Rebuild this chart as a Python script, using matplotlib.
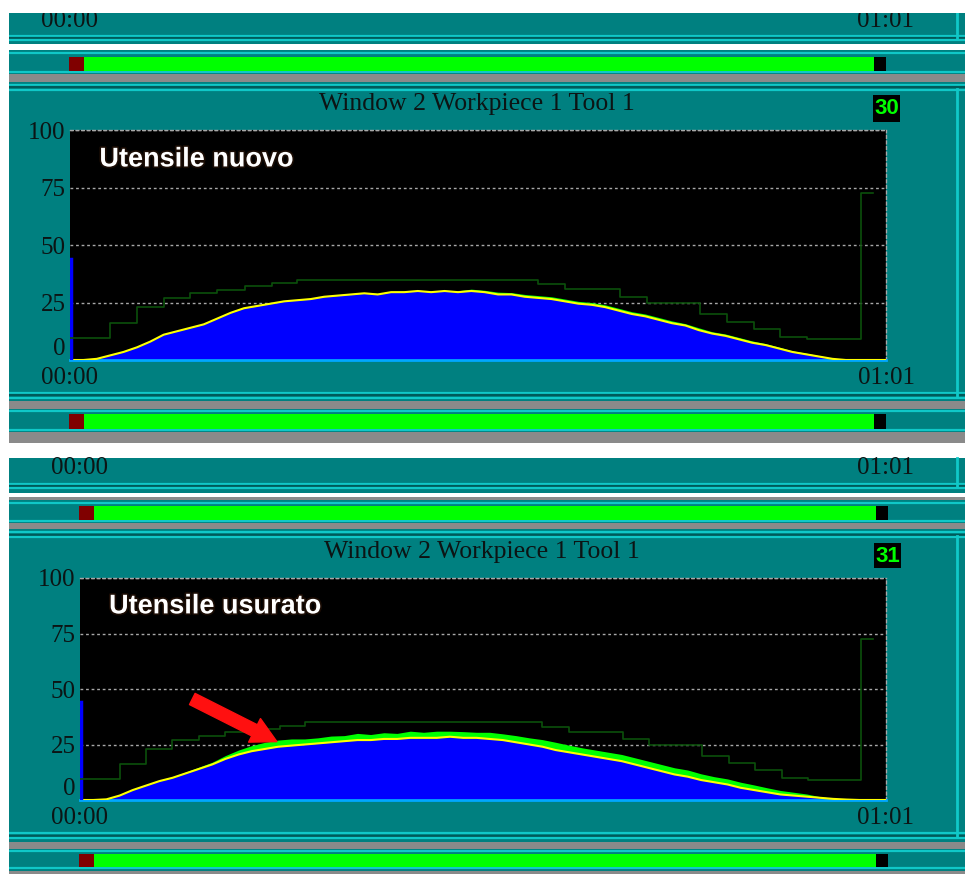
import matplotlib.pyplot as plt
import matplotlib.patheffects as pe
from matplotlib.patches import Rectangle

plt.rcParams['font.family'] = ['Liberation Serif', 'DejaVu Serif']

# tempo in secondi (00:00 - 01:01)
t = list(range(62))

# utensile nuovo: segnale (giallo) e inviluppo verde
nuovo = [0, 0, 0.5, 2, 3.5, 5.5, 8, 11, 12.5, 14, 15.5, 18, 20.5, 22.5, 23.5, 24.5,
         25.5, 26, 26.5, 27.5, 28, 28.5, 29, 28.5, 29.5, 29.5, 30, 29.5, 30, 29.5, 30, 29.5,
         28.5, 28.5, 27.5, 27, 26.5, 25.5, 24.5, 24, 23, 21.5, 20, 19, 17.5, 16, 15, 13,
         11.5, 10.5, 9, 7.5, 6.5, 5, 3.5, 2.5, 1.5, 0.5, 0, 0, 0, 0]
nuovo_extra = [0, 0, 0.2, 0.3, 0.3, 0.3, 0.3, 0.3, 0.3, 0.3, 0.3, 0.3, 0.3, 0.3, 0.3, 0.3,
               0.3, 0.3, 0.3, 0.3, 0.3, 0.3, 0.3, 0.5, 0.3, 0.5, 0.3, 0.5, 0.3, 0.6, 0.8, 0.8,
               1.0, 0.8, 1.0, 1.0, 1.0, 1.0, 1.0, 1.0, 1.0, 1.0, 1.0, 1.0, 1.0, 1.0, 0.8, 1.0,
               0.8, 0.8, 0.8, 0.8, 0.6, 0.6, 0.5, 0.5, 0.4, 0.3, 0.2, 0, 0, 0]

# utensile usurato
usurato = [0, 0, 0.3, 2, 4.5, 6.5, 8.5, 10, 12, 14, 16, 18.5, 20.5, 22, 23, 24,
           24.5, 25, 25.5, 26, 26.5, 27, 27, 27.5, 27.5, 28, 28, 28, 28.5, 28, 28, 27.5,
           27, 26, 25, 24, 22.5, 21.5, 20.5, 19.5, 18.5, 17.5, 16, 14.5, 13, 11.5, 10.5, 9,
           8, 7, 5.5, 4.5, 3.5, 2.5, 2, 1.5, 1, 0.5, 0.2, 0, 0, 0]
usurato_extra = [0, 0, 0.2, 0.3, 0.3, 0.3, 0.4, 0.5, 0.6, 0.8, 1.0, 1.5, 2.0, 2.5, 3.0, 3.0,
                 3.0, 2.5, 2.5, 2.8, 2.5, 3.0, 2.5, 2.8, 2.5, 3.0, 2.5, 3.0, 2.5, 2.8, 2.5, 3.0,
                 2.8, 3.0, 3.0, 3.2, 3.5, 3.2, 3.0, 3.0, 3.0, 3.0, 3.0, 3.0, 3.0, 3.0, 3.0, 2.8,
                 2.5, 2.5, 2.5, 2.3, 2.0, 1.8, 1.5, 1.2, 0.5, 0.3, 0, 0, 0, 0]

# soglia a gradini (comune)
soglia_t = [0, 3.0, 5.0, 7.0, 9.0, 11.0, 13.1, 15.1, 17.0, 35.0, 37.0, 41.1, 43.1,
            47.1, 49.1, 51.1, 53.1, 55.1, 59.1, 60.0]
soglia_v = [9.6, 16, 23, 27, 29, 30.5, 32.2, 33.5, 35, 33, 30.7, 27.5, 25,
            20, 16.5, 13.5, 10, 9.1, 72.7, 72.7]

picco = 44
yticks = [0, 25, 50, 75, 100]
xtick_lab = ['00:00', '01:01']
titolo = 'Window 2 Workpiece 1 Tool 1'

TEAL = '#008080'
CYAN = '#10C8C8'
DARK = '#005a5a'
GRAY = '#8a8a8a'
TXT = '#0c1414'

fig = plt.figure(figsize=(9.65, 8.74), dpi=100)
bg = fig.add_axes([0, 0, 1, 1])
bg.set_xlim(0, 965)
bg.set_ylim(874, 0)
bg.axis('off')


def box(x0, y0, x1, y1, c, z=1):
    bg.add_patch(Rectangle((x0, y0), x1 - x0, y1 - y0, color=c, lw=0, zorder=z))


def hl(y, c, lw=1.6):
    bg.plot([9, 965], [y, y], color=c, lw=lw, zorder=3, solid_capstyle='butt')


def progress(y0, y1, red, green_end):
    box(red, y0, red + 15, y1, '#800000', 4)
    box(red + 15, y0, green_end, y1, '#00ff00', 4)
    box(green_end, y0, green_end + 12, y1, 'black', 4)


# ---------- screenshot 1 ----------
box(9, 13, 965, 443, TEAL)
bg.text(70, 21, '00:00', ha='center', va='center', fontsize=18, color=TXT, zorder=3)
bg.text(885, 21, '01:01', ha='center', va='center', fontsize=18, color=TXT, zorder=3)
box(0, 0, 965, 13, 'white', 5)
for y, c in [(35.5, CYAN), (37.5, DARK), (39.5, CYAN), (52.5, CYAN), (72, CYAN),
             (84.5, CYAN), (86.5, DARK), (89.5, CYAN), (393, CYAN), (395, DARK),
             (397.5, CYAN), (410.5, CYAN), (429.5, CYAN)]:
    hl(y, c)
box(9, 44, 965, 50, 'white', 3)
box(9, 74, 965, 82, GRAY, 3)
box(9, 401, 965, 409, GRAY, 3)
box(9, 432, 965, 443, GRAY, 3)
bg.plot([957, 957], [13, 38], color=CYAN, lw=2, zorder=3)
bg.plot([957, 957], [89, 396], color=CYAN, lw=2, zorder=3)
progress(56.5, 71, 69, 874)
progress(414, 428.5, 69, 874)
bg.text(477, 104, titolo, ha='center', va='center', fontsize=18.5, color=TXT, zorder=3)
box(873, 95, 900, 122, 'black', 4)
bg.text(886.5, 109, '30', ha='center', va='center', fontsize=16, color='#00ff00',
        family='Liberation Sans', weight='bold', zorder=5)

# ---------- screenshot 2 ----------
box(9, 458, 965, 874, TEAL)
bg.text(80, 468, '00:00', ha='center', va='center', fontsize=18, color=TXT, zorder=3)
bg.text(886, 468, '01:01', ha='center', va='center', fontsize=18, color=TXT, zorder=3)
for y, c in [(484, CYAN), (486, DARK), (488.3, CYAN), (502.7, CYAN), (520.7, CYAN),
             (532, CYAN), (534.5, DARK), (537, CYAN), (833, CYAN), (835.5, DARK),
             (838, CYAN), (850.7, CYAN), (868.3, CYAN)]:
    hl(y, c)
box(9, 493, 965, 497, 'white', 3)
box(9, 497, 965, 500, GRAY, 3)
box(9, 523, 965, 529, GRAY, 3)
box(9, 842, 965, 849, GRAY, 3)
box(9, 871, 965, 874, GRAY, 3)
bg.plot([957, 957], [458, 487], color=CYAN, lw=2, zorder=3)
bg.plot([957, 957], [536, 837], color=CYAN, lw=2, zorder=3)
progress(505.5, 520, 79, 876)
progress(854, 867.3, 79, 876)
bg.text(482, 552, titolo, ha='center', va='center', fontsize=18.5, color=TXT, zorder=3)
box(874, 543, 901, 568, 'black', 4)
bg.text(887.5, 556, '31', ha='center', va='center', fontsize=16, color='#00ff00',
        family='Liberation Sans', weight='bold', zorder=5)


def grafico(rect, valori, extra, etichetta):
    ax = fig.add_axes(rect)
    ax.set_facecolor('black')
    ax.set_xlim(0, 61)
    ax.set_ylim(0, 100)
    ax.set_axisbelow(True)
    ax.yaxis.grid(True, color='#a8a8a8', ls=(0, (2, 2)), lw=1)
    top = [v + e for v, e in zip(valori, extra)]
    ax.fill_between(t, 0, valori, color='#0000ff', lw=0, zorder=2)
    ax.fill_between(t, valori, top, color='#00ff00', lw=0, zorder=2)
    ax.plot(t, valori, color='#ffff00', lw=1.5, zorder=3)
    ax.plot([0.1, 0.1], [0, picco], color='#0000ff', lw=2.5, zorder=3)
    ax.step(soglia_t, soglia_v, where='post', color='#0b500b', lw=1.2, zorder=4)
    ax.set_yticks(yticks)
    ax.set_xticks([0, 61], xtick_lab)
    ax.tick_params(length=0, labelsize=18, labelcolor=TXT, pad=3)
    ax.tick_params(axis='x', pad=5)
    ax.get_yticklabels()[0].set_va('bottom')
    ax.spines['left'].set_visible(False)
    ax.spines['bottom'].set_color('#00a8ff')
    ax.spines['bottom'].set_linewidth(2)
    for s in ('top', 'right'):
        ax.spines[s].set_color('#a8a8a8')
        ax.spines[s].set_linestyle((0, (2, 2)))
        ax.spines[s].set_linewidth(1)
    ax.text(2.2, 87.2, etichetta, ha='left', va='center', fontsize=19.5, color='white',
            family='Liberation Sans', weight='bold', zorder=6,
            path_effects=[pe.withStroke(linewidth=2.5, foreground='#1a0c04')])
    return ax


grafico([70 / 965, 1 - 360 / 874, 816 / 965, 230 / 874], nuovo, nuovo_extra, 'Utensile nuovo')
ax2 = grafico([80 / 965, 1 - 800 / 874, 806 / 965, 222 / 874], usurato, usurato_extra,
              'Utensile usurato')
ax2.annotate('', xy=(14.9, 26.3), xytext=(8.5, 45.5), zorder=7,
             arrowprops=dict(arrowstyle='simple,head_length=0.9,head_width=0.95,tail_width=0.45',
                             color='#ff1010', mutation_scale=20, shrinkA=0, shrinkB=0))

fig.savefig('out.png', dpi=100, facecolor='white')
